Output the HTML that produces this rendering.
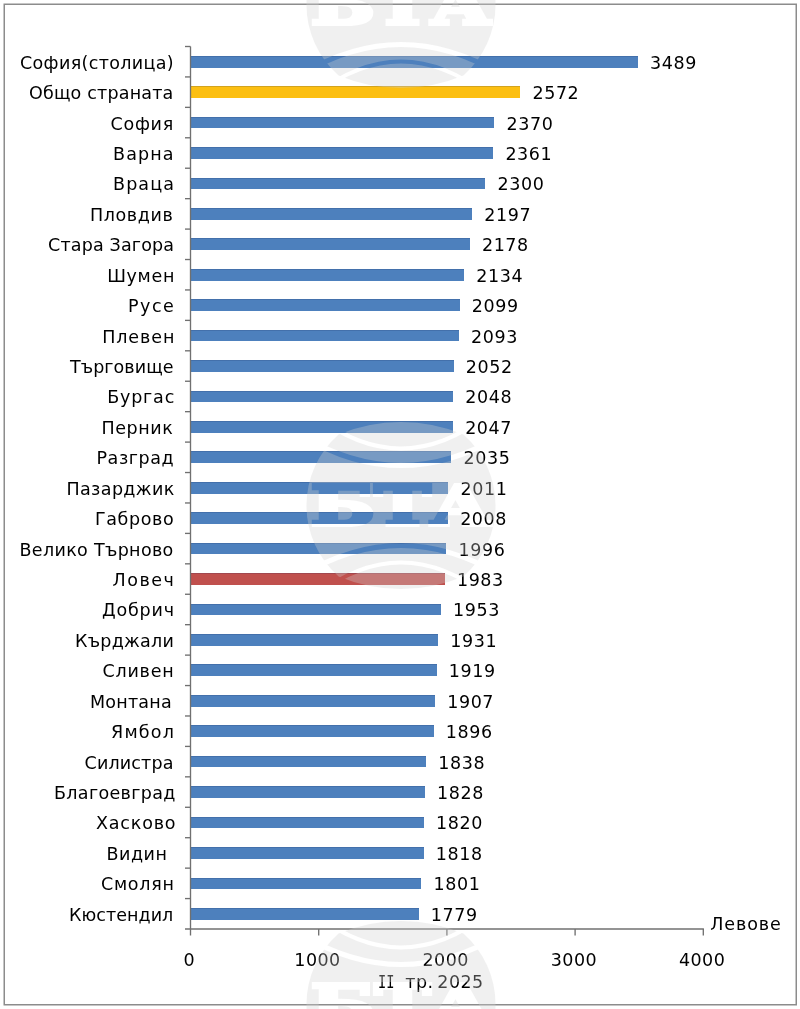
<!DOCTYPE html>
<html lang="bg"><head><meta charset="utf-8"><title>Средна работна заплата по области</title>
<style>
*{margin:0;padding:0;box-sizing:border-box}
html,body{width:800px;height:1009px;background:#fff;overflow:hidden}
body{position:relative;font-family:"DejaVu Sans","Liberation Sans",sans-serif;font-size:17.5px;color:#000;line-height:20px}
.lab{position:absolute;height:20px;white-space:nowrap}
.val{position:absolute;height:20px;white-space:nowrap;letter-spacing:0.6px}
.bar{position:absolute;left:190.5px;height:11.7px;background:#4d80bd;box-shadow:inset 0 1px 0 rgba(20,40,90,0.18)}
.bar.y{background:#fcbf12}
.bar.r{background:#c0504d}
.per{position:absolute;left:0;width:800px;height:20px;white-space:nowrap;color:#000;letter-spacing:0.45px}
.per span{position:absolute;top:0}
.per .ii{font-family:"DejaVu Sans Mono","Liberation Mono",monospace;font-size:17.5px;letter-spacing:0;transform:scaleX(0.78);transform-origin:0 0}
.tk{position:absolute;white-space:nowrap;height:20px;text-align:center;width:80px;color:#000;letter-spacing:0.45px}
svg{position:absolute;left:0;top:0}
</style></head><body>
<div class="bar" style="top:55.87px;width:447.29px"></div>
<div class="lab" id="l0" style="top:52.72px;left:20.00px;letter-spacing:0.346px">София(столица)</div>
<div class="val" style="top:52.72px;left:649.99px">3489</div>
<div class="bar y" style="top:86.30px;width:329.73px"></div>
<div class="lab" id="l1" style="top:83.15px;left:29.00px;letter-spacing:0.188px">Общо страната</div>
<div class="val" style="top:83.15px;left:532.43px">2572</div>
<div class="bar" style="top:116.73px;width:303.83px"></div>
<div class="lab" id="l2" style="top:113.58px;left:110.50px;letter-spacing:0.731px">София</div>
<div class="val" style="top:113.58px;left:506.53px">2370</div>
<div class="bar" style="top:147.16px;width:302.68px"></div>
<div class="lab" id="l3" style="top:144.01px;left:113.00px;letter-spacing:1.125px">Варна</div>
<div class="val" style="top:144.01px;left:505.38px">2361</div>
<div class="bar" style="top:177.59px;width:294.86px"></div>
<div class="lab" id="l4" style="top:174.44px;left:113.00px;letter-spacing:1.125px">Враца</div>
<div class="val" style="top:174.44px;left:497.56px">2300</div>
<div class="bar" style="top:208.02px;width:281.66px"></div>
<div class="lab" id="l5" style="top:204.87px;left:90.00px;letter-spacing:0.600px">Пловдив</div>
<div class="val" style="top:204.87px;left:484.36px">2197</div>
<div class="bar" style="top:238.45px;width:279.22px"></div>
<div class="lab" id="l6" style="top:235.30px;left:48.00px;letter-spacing:0.164px">Стара Загора</div>
<div class="val" style="top:235.30px;left:481.92px">2178</div>
<div class="bar" style="top:268.88px;width:273.58px"></div>
<div class="lab" id="l7" style="top:265.73px;left:107.20px;letter-spacing:0.675px">Шумен</div>
<div class="val" style="top:265.73px;left:476.28px">2134</div>
<div class="bar" style="top:299.31px;width:269.09px"></div>
<div class="lab" id="l8" style="top:296.16px;left:128.00px;letter-spacing:1.500px">Русе</div>
<div class="val" style="top:296.16px;left:471.79px">2099</div>
<div class="bar" style="top:329.74px;width:268.32px"></div>
<div class="lab" id="l9" style="top:326.59px;left:102.20px;letter-spacing:0.900px">Плевен</div>
<div class="val" style="top:326.59px;left:471.02px">2093</div>
<div class="bar" style="top:360.18px;width:263.07px"></div>
<div class="lab" id="l10" style="top:357.03px;left:70.00px;letter-spacing:0.056px">Търговище</div>
<div class="val" style="top:357.03px;left:465.77px">2052</div>
<div class="bar" style="top:390.61px;width:262.55px"></div>
<div class="lab" id="l11" style="top:387.46px;left:107.20px;letter-spacing:0.810px">Бургас</div>
<div class="val" style="top:387.46px;left:465.25px">2048</div>
<div class="bar" style="top:421.04px;width:262.43px"></div>
<div class="lab" id="l12" style="top:417.89px;left:101.50px;letter-spacing:0.585px">Перник</div>
<div class="val" style="top:417.89px;left:465.13px">2047</div>
<div class="bar" style="top:451.47px;width:260.89px"></div>
<div class="lab" id="l13" style="top:448.32px;left:96.50px;letter-spacing:0.562px">Разград</div>
<div class="val" style="top:448.32px;left:463.59px">2035</div>
<div class="bar" style="top:481.90px;width:257.81px"></div>
<div class="lab" id="l14" style="top:478.75px;left:66.50px;letter-spacing:0.366px">Пазарджик</div>
<div class="val" style="top:478.75px;left:460.51px">2011</div>
<div class="bar" style="top:512.33px;width:257.43px"></div>
<div class="lab" id="l15" style="top:509.18px;left:95.00px;letter-spacing:0.600px">Габрово</div>
<div class="val" style="top:509.18px;left:460.13px">2008</div>
<div class="bar" style="top:542.76px;width:255.89px"></div>
<div class="lab" id="l16" style="top:539.61px;left:19.50px;letter-spacing:0.329px">Велико Търново</div>
<div class="val" style="top:539.61px;left:458.59px">1996</div>
<div class="bar r" style="top:573.19px;width:254.22px"></div>
<div class="lab" id="l17" style="top:570.04px;left:112.50px;letter-spacing:1.519px">Ловеч</div>
<div class="val" style="top:570.04px;left:456.92px">1983</div>
<div class="bar" style="top:603.62px;width:250.37px"></div>
<div class="lab" id="l18" style="top:600.47px;left:102.00px;letter-spacing:0.810px">Добрич</div>
<div class="val" style="top:600.47px;left:453.07px">1953</div>
<div class="bar" style="top:634.06px;width:247.55px"></div>
<div class="lab" id="l19" style="top:630.91px;left:75.00px;letter-spacing:0.257px">Кърджали</div>
<div class="val" style="top:630.91px;left:450.25px">1931</div>
<div class="bar" style="top:664.49px;width:246.02px"></div>
<div class="lab" id="l20" style="top:661.34px;left:102.50px;letter-spacing:0.765px">Сливен</div>
<div class="val" style="top:661.34px;left:448.72px">1919</div>
<div class="bar" style="top:694.92px;width:244.48px"></div>
<div class="lab" id="l21" style="top:691.77px;left:90.00px;letter-spacing:0.225px">Монтана</div>
<div class="val" style="top:691.77px;left:447.18px">1907</div>
<div class="bar" style="top:725.35px;width:243.07px"></div>
<div class="lab" id="l22" style="top:722.20px;left:111.00px;letter-spacing:1.238px">Ямбол</div>
<div class="val" style="top:722.20px;left:445.77px">1896</div>
<div class="bar" style="top:755.78px;width:235.63px"></div>
<div class="lab" id="l23" style="top:752.63px;left:84.50px;letter-spacing:0.161px">Силистра</div>
<div class="val" style="top:752.63px;left:438.33px">1838</div>
<div class="bar" style="top:786.21px;width:234.35px"></div>
<div class="lab" id="l24" style="top:783.06px;left:54.00px;letter-spacing:0.338px">Благоевград</div>
<div class="val" style="top:783.06px;left:437.05px">1828</div>
<div class="bar" style="top:816.64px;width:233.32px"></div>
<div class="lab" id="l25" style="top:813.49px;left:96.00px;letter-spacing:0.825px">Хасково</div>
<div class="val" style="top:813.49px;left:436.02px">1820</div>
<div class="bar" style="top:847.07px;width:233.07px"></div>
<div class="lab" id="l26" style="top:843.92px;left:106.50px;letter-spacing:0.506px">Видин</div>
<div class="val" style="top:843.92px;left:435.77px">1818</div>
<div class="bar" style="top:877.50px;width:230.89px"></div>
<div class="lab" id="l27" style="top:874.35px;left:101.00px;letter-spacing:0.720px">Смолян</div>
<div class="val" style="top:874.35px;left:433.59px">1801</div>
<div class="bar" style="top:907.93px;width:228.07px"></div>
<div class="lab" id="l28" style="top:904.78px;left:69.00px;letter-spacing:0.056px">Кюстендил</div>
<div class="val" style="top:904.78px;left:430.77px">1779</div>
<svg width="800" height="1009" viewBox="0 0 800 1009"><rect x="4.25" y="4.25" width="792" height="1000.5" fill="none" stroke="#8c8c8c" stroke-width="1.5"/><g stroke="#707070" stroke-width="1.35" fill="none"><path d="M190.5 46.5 V935.5"/><path d="M185.0 929.0 H703.9"/><path d="M185.0 46.50 H190.5"/><path d="M185.0 76.93 H190.5"/><path d="M185.0 107.36 H190.5"/><path d="M185.0 137.79 H190.5"/><path d="M185.0 168.22 H190.5"/><path d="M185.0 198.66 H190.5"/><path d="M185.0 229.09 H190.5"/><path d="M185.0 259.52 H190.5"/><path d="M185.0 289.95 H190.5"/><path d="M185.0 320.38 H190.5"/><path d="M185.0 350.81 H190.5"/><path d="M185.0 381.24 H190.5"/><path d="M185.0 411.67 H190.5"/><path d="M185.0 442.10 H190.5"/><path d="M185.0 472.53 H190.5"/><path d="M185.0 502.97 H190.5"/><path d="M185.0 533.40 H190.5"/><path d="M185.0 563.83 H190.5"/><path d="M185.0 594.26 H190.5"/><path d="M185.0 624.69 H190.5"/><path d="M185.0 655.12 H190.5"/><path d="M185.0 685.55 H190.5"/><path d="M185.0 715.98 H190.5"/><path d="M185.0 746.41 H190.5"/><path d="M185.0 776.84 H190.5"/><path d="M185.0 807.28 H190.5"/><path d="M185.0 837.71 H190.5"/><path d="M185.0 868.14 H190.5"/><path d="M185.0 898.57 H190.5"/><path d="M318.70 929.0 V935.5"/><path d="M446.90 929.0 V935.5"/><path d="M575.10 929.0 V935.5"/><path d="M703.30 929.0 V935.5"/></g></svg>
<div class="tk" style="left:149.30px;top:950.00px">0</div>
<div class="tk" style="left:277.50px;top:950.00px">1000</div>
<div class="tk" style="left:405.70px;top:950.00px">2000</div>
<div class="tk" style="left:533.90px;top:950.00px">3000</div>
<div class="tk" style="left:662.10px;top:950.00px">4000</div>
<div class="val" style="left:710.3px;top:914.00px;letter-spacing:0.9px">Левове</div>
<div class="per" style="top:972.00px"><span class="ii" style="left:377.6px">II</span> <span style="left:405.3px">тр.</span> <span style="left:437.3px">2025</span></div>
<svg width="800" height="1009" viewBox="0 0 800 1009" style="pointer-events:none"><defs><mask id="bm" maskUnits="userSpaceOnUse" x="-100" y="-90" width="200" height="180"><path fill="#fff" d="M-62.4 -71 A162 162 0 0 1 62.4 -71 A94.5 94.5 0 0 1 62.4 71 A162 162 0 0 1 -62.4 71 A94.5 94.5 0 0 1 -62.4 -71 Z"/><g fill="none" stroke="#000"><path d="M-110 -111.45 Q0 -2.55 110 -111.45" stroke-width="4.0"/><path d="M-110 -76.30 Q0 -3.70 110 -76.30" stroke-width="5.0"/><path d="M-110 111.45 Q0 2.55 110 111.45" stroke-width="4.0"/><path d="M-110 76.30 Q0 3.70 110 76.30" stroke-width="5.0"/></g><text x="0" y="19.5" text-anchor="middle" textLength="180" lengthAdjust="spacingAndGlyphs" font-family="'DejaVu Serif','Liberation Serif',serif" font-weight="700" font-size="55" fill="#000" stroke="#000" stroke-width="4" stroke-linejoin="miter">БТА</text></mask></defs><g transform="translate(401 4.5)"><rect x="-100" y="-90" width="200" height="180" fill="#d0d0d0" fill-opacity="0.32" mask="url(#bm)"/></g><g transform="translate(401 505.5)"><rect x="-100" y="-90" width="200" height="180" fill="#d0d0d0" fill-opacity="0.32" mask="url(#bm)"/></g><g transform="translate(401 1004.5)"><rect x="-100" y="-90" width="200" height="180" fill="#d0d0d0" fill-opacity="0.32" mask="url(#bm)"/></g></svg>
</body></html>
